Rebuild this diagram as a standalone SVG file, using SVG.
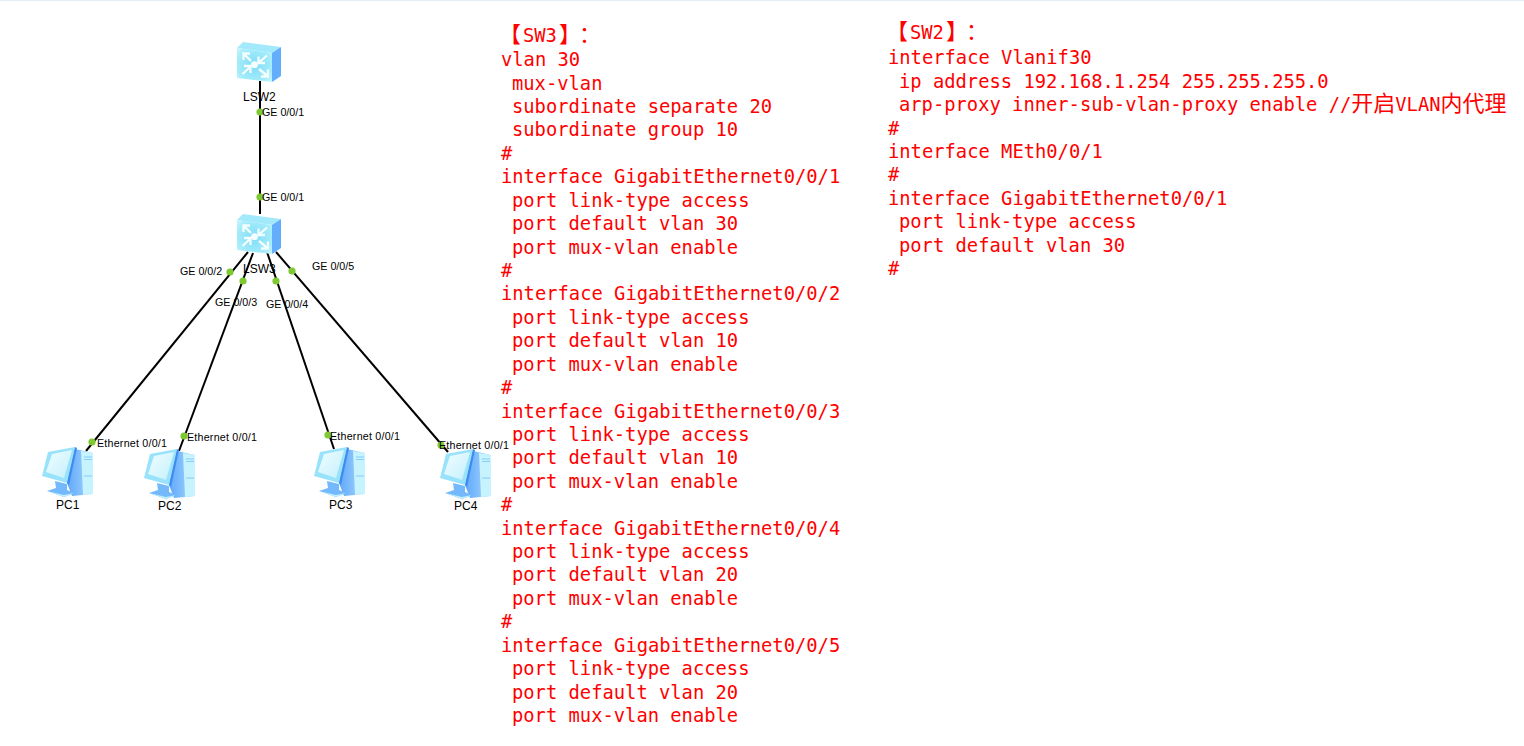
<svg xmlns="http://www.w3.org/2000/svg" xmlns:xlink="http://www.w3.org/1999/xlink" width="1524" height="746" viewBox="0 0 1524 746">
<style>
text{text-spacing-trim:space-all}
.lbl{font-family:"Liberation Sans",Arial,sans-serif;font-size:10.7px;fill:#000}
.eth{letter-spacing:.22px}
.nm{font-family:"Liberation Sans",Arial,sans-serif;font-size:12px;fill:#000}
.cfg{font-family:"DejaVu Sans Mono","Liberation Mono",monospace;font-size:18.8px;fill:#f00}
.cjk{font-family:"Noto Sans CJK SC",sans-serif;font-size:22px}
.link{stroke:#000;stroke-width:2;fill:none}
.dot{fill:#7ec832}
</style>
<defs>
<radialGradient id="swf" cx=".5" cy=".5" r=".7"><stop offset="0" stop-color="#7fdcf7"/><stop offset=".7" stop-color="#a4ecfa"/><stop offset="1" stop-color="#c8f6fc"/></radialGradient>
<linearGradient id="mon" x1="0" y1="0" x2="1" y2="1"><stop offset="0" stop-color="#f0fdff"/><stop offset="1" stop-color="#c4f0fc"/></linearGradient>
<linearGradient id="tow" x1="0" y1="0" x2="1" y2="0"><stop offset="0" stop-color="#5ea8fb"/><stop offset="1" stop-color="#a9d8fd"/></linearGradient>
<g id="sw">
<polygon points="6,1 44,6 35,12 0,7" fill="#a3e9fc"/>
<polygon points="35,12 44,6 44,35 35,41" fill="#62aefc"/>
<polygon points="0,7 35,12 35,41 0,37" fill="url(#swf)"/>
<g stroke="#f4feff" stroke-width="2.300" fill="none">
<path d="M14,20 L7,13 M6.500,19 V12.500 H13"/>
<path d="M30,14.500 L22,21.500 M21.500,15.500 V22 H28"/>
<path d="M5.500,33 L13,26 M7,25 H13.500 V32"/>
<path d="M22,28 L30.500,35 M31,28.500 V35.500 H24"/>
</g>
<circle cx="17.500" cy="23.700" r="3.400" fill="#f6ffff"/>
</g>
<g id="pc">
<polygon points="33,4 51,8 51,49 30,51 25,38" fill="url(#tow)"/>
<polygon points="39,6 51,8 51,49 41,50" fill="#c6f3fd"/>
<path d="M42,12 H50 M42,14.500 H50 M42,31 H50" stroke="#88ccf9" stroke-width="1" fill="none"/>
<polygon points="6,7 33,2 25,38 0,31" fill="#98e3fb"/>
<polygon points="10,9 30,5 22,33 4,27" fill="url(#mon)"/>
<polygon points="33,2 35,3 27,40 25,38" fill="#3f8cf0"/>
<polygon points="13,36 25,39 25,45 32,48 22,52 5,46 14,43" fill="#74b9fb"/>
<polygon points="5,46 22,50 32,48 22,52" fill="#bfeffd"/>
</g>
</defs>
<rect width="1524" height="746" fill="#fff"/>
<rect width="1524" height="1" fill="#e6eef6"/>
<g id="connectors">
<line class="link" x1="260" y1="81" x2="260" y2="214"/>
<line class="link" x1="248" y1="252" x2="86" y2="451"/>
<line class="link" x1="253" y1="253" x2="179" y2="451"/>
<line class="link" x1="267" y1="252" x2="334" y2="449"/>
<line class="link" x1="276" y1="252" x2="448" y2="452"/>
</g>
<g id="LSW2"><use xlink:href="#sw" href="#sw" x="237" y="41"/><text class="nm" x="243" y="101">LSW2</text></g>
<g id="LSW3"><use xlink:href="#sw" href="#sw" x="237" y="213"/><text class="nm" x="243" y="273">LSW3</text></g>
<g id="PC1"><use xlink:href="#pc" href="#pc" x="42" y="445"/><text class="nm" x="56" y="509">PC1</text></g>
<g id="PC2"><use xlink:href="#pc" href="#pc" x="144" y="447"/><text class="nm" x="158" y="510">PC2</text></g>
<g id="PC3"><use xlink:href="#pc" href="#pc" x="314" y="445"/><text class="nm" x="329" y="509">PC3</text></g>
<g id="PC4"><use xlink:href="#pc" href="#pc" x="440" y="447"/><text class="nm" x="454" y="510">PC4</text></g>
<g id="ports">
<circle class="dot" cx="260" cy="112" r="3.600"/><circle class="dot" cx="260" cy="197" r="3.600"/>
<circle class="dot" cx="230" cy="272" r="3.600"/><circle class="dot" cx="243" cy="281" r="3.600"/>
<circle class="dot" cx="276" cy="281" r="3.600"/><circle class="dot" cx="292" cy="271" r="3.600"/>
<circle class="dot" cx="92" cy="442" r="3.600"/><circle class="dot" cx="184" cy="436" r="3.600"/>
<circle class="dot" cx="328" cy="435" r="3.600"/><circle class="dot" cx="441" cy="445" r="3.600"/>
<text class="lbl" x="262" y="116">GE 0/0/1</text>
<text class="lbl" x="262" y="201">GE 0/0/1</text>
<text class="lbl" x="180" y="275">GE 0/0/2</text>
<text class="lbl" x="215" y="306">GE 0/0/3</text>
<text class="lbl" x="266" y="308">GE 0/0/4</text>
<text class="lbl" x="312" y="270">GE 0/0/5</text>
<text class="lbl eth" x="97" y="447">Ethernet 0/0/1</text>
<text class="lbl eth" x="187" y="441">Ethernet 0/0/1</text>
<text class="lbl eth" x="330" y="440">Ethernet 0/0/1</text>
<text class="lbl eth" x="439" y="449">Ethernet 0/0/1</text>
</g>
<g id="sw3-config" class="cfg">
<text x="499" y="42"><tspan class="cjk">【</tspan><tspan x="523">SW3</tspan><tspan class="cjk" x="559">】</tspan><tspan class="cjk" x="579">：</tspan></text>
<text x="501" y="66.200">vlan 30</text>
<text x="512" y="89.620">mux-vlan</text>
<text x="512" y="113.040">subordinate separate 20</text>
<text x="512" y="136.460">subordinate group 10</text>
<text x="501" y="159.880">#</text>
<text x="501" y="183.300">interface GigabitEthernet0/0/1</text>
<text x="512" y="206.720">port link-type access</text>
<text x="512" y="230.140">port default vlan 30</text>
<text x="512" y="253.560">port mux-vlan enable</text>
<text x="501" y="276.980">#</text>
<text x="501" y="300.400">interface GigabitEthernet0/0/2</text>
<text x="512" y="323.820">port link-type access</text>
<text x="512" y="347.240">port default vlan 10</text>
<text x="512" y="370.660">port mux-vlan enable</text>
<text x="501" y="394.080">#</text>
<text x="501" y="417.500">interface GigabitEthernet0/0/3</text>
<text x="512" y="440.920">port link-type access</text>
<text x="512" y="464.340">port default vlan 10</text>
<text x="512" y="487.760">port mux-vlan enable</text>
<text x="501" y="511.180">#</text>
<text x="501" y="534.600">interface GigabitEthernet0/0/4</text>
<text x="512" y="558.020">port link-type access</text>
<text x="512" y="581.440">port default vlan 20</text>
<text x="512" y="604.860">port mux-vlan enable</text>
<text x="501" y="628.280">#</text>
<text x="501" y="651.700">interface GigabitEthernet0/0/5</text>
<text x="512" y="675.120">port link-type access</text>
<text x="512" y="698.540">port default vlan 20</text>
<text x="512" y="721.960">port mux-vlan enable</text>
</g>
<g id="sw2-config" class="cfg" transform="translate(0 .4)">
<text x="886" y="39"><tspan class="cjk">【</tspan><tspan x="910">SW2</tspan><tspan class="cjk" x="946">】</tspan><tspan class="cjk" x="966">：</tspan></text>
<text x="888" y="64">interface Vlanif30</text>
<text x="899" y="87.400">ip address 192.168.1.254 255.255.255.0</text>
<text x="899" y="110.800">arp-proxy inner-sub-vlan-proxy enable //<tspan class="cjk">开启</tspan>VLAN<tspan class="cjk">内代理</tspan></text>
<text x="888" y="134.200">#</text>
<text x="888" y="157.600">interface MEth0/0/1</text>
<text x="888" y="181">#</text>
<text x="888" y="204.400">interface GigabitEthernet0/0/1</text>
<text x="899" y="227.800">port link-type access</text>
<text x="899" y="251.200">port default vlan 30</text>
<text x="888" y="274.600">#</text>
</g>
</svg>
